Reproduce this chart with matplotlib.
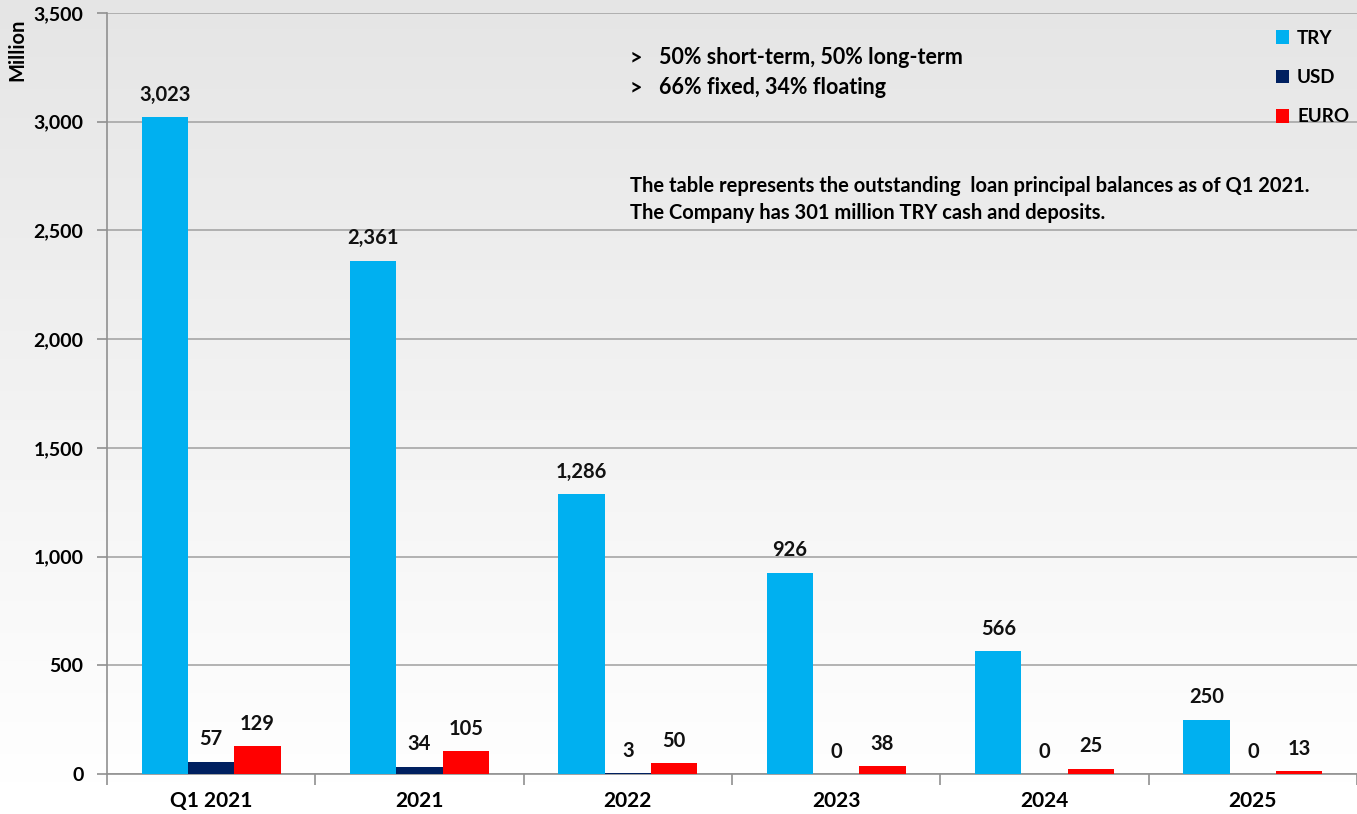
import matplotlib
matplotlib.use("Agg")
import matplotlib.pyplot as plt
import numpy as np
from matplotlib.patches import Patch

categories = ["Q1 2021", "2021", "2022", "2023", "2024", "2025"]
try_vals = [3023, 2361, 1286, 926, 566, 250]
usd_vals = [57, 34, 3, 0, 0, 0]
euro_vals = [129, 105, 50, 38, 25, 13]
series_names = ["TRY", "USD", "EURO"]
colors = ["#00B0F0", "#002060", "#FF0000"]
yticks = [0, 500, 1000, 1500, 2000, 2500, 3000, 3500]

FONT = ["Lato", "DejaVu Sans"]
plt.rcParams["font.family"] = FONT
plt.rcParams["font.weight"] = "bold"

fig = plt.figure(figsize=(13.57, 8.14), dpi=100)

# gradient background
bg = fig.add_axes([0, 0, 1, 1], zorder=-10)
grad = np.linspace(0.895, 1.0, 256).reshape(-1, 1)
bg.imshow(grad, aspect="auto", cmap="gray", vmin=0, vmax=1, extent=[0, 1, 0, 1], origin="upper")
bg.set_axis_off()

ax = fig.add_axes([107 / 1357, 1 - 774 / 814, 1 - 107 / 1357, (774 - 13) / 814])
ax.patch.set_alpha(0)

x = np.arange(len(categories))
w = 0.222
series = [try_vals, usd_vals, euro_vals]
for i, (vals, c, name) in enumerate(zip(series, colors, series_names)):
    pos = x + (i - 1) * w
    ax.bar(pos, vals, width=w, color=c, label=name, zorder=3)
    for px, v in zip(pos, vals):
        ax.annotate(f"{v:,}", (px, v), xytext=(0, 16), textcoords="offset points",
                    ha="center", va="center", fontsize=14.5, fontweight="bold", color="#111111")

ax.set_xlim(-0.5, 5.5)
ax.set_ylim(0, 3500)
ax.set_yticks(yticks)
ax.set_yticklabels([f"{t:,}" for t in yticks], fontsize=14, fontweight="bold")
ax.set_xticks(x)
ax.set_xticklabels(categories, fontsize=15, fontweight="bold")
ax.set_xticks(np.arange(-0.5, 6.0, 1.0), minor=True)
ax.tick_params(axis="x", which="major", length=0, pad=12)
ax.tick_params(axis="x", which="minor", length=8, color="#909090", width=1.2)
ax.tick_params(axis="y", length=7, color="#909090", width=1.2, pad=10)
ax.grid(axis="y", color="#a6a6a6", linewidth=1.2, zorder=0)
for s in ["top", "right"]:
    ax.spines[s].set_visible(False)
ax.spines["left"].set_color("#909090")
ax.spines["bottom"].set_color("#909090")
ax.spines["left"].set_linewidth(1.2)
ax.spines["bottom"].set_linewidth(1.2)

fig.text(17 / 1357, 1 - 50 / 814, "Million", rotation=90, ha="center", va="center",
         fontsize=14.5, fontweight="bold")

handles = [Patch(facecolor=c, label=n) for c, n in zip(colors, series_names)]
ax.legend(handles=handles, loc="upper left", bbox_to_anchor=(1268 / 1357, 1 - 22 / 814),
          bbox_transform=fig.transFigure, frameon=False,
          handlelength=0.7, handleheight=0.7, handletextpad=0.45, labelspacing=1.2,
          borderaxespad=0, prop={"weight": "bold", "size": 13.5})

for y, t in [(58, "50% short-term, 50% long-term"), (88, "66% fixed, 34% floating")]:
    fig.text(630 / 1357, 1 - y / 814, ">", ha="left", va="center", fontsize=15.5, fontweight="bold")
    fig.text(659 / 1357, 1 - y / 814, t, ha="left", va="center", fontsize=15.5, fontweight="bold")

fig.text(630 / 1357, 1 - 186 / 814, "The table represents the outstanding  loan principal balances as of Q1 2021.",
         ha="left", va="center", fontsize=14.5, fontweight="bold")
fig.text(630 / 1357, 1 - 213 / 814, "The Company has 301 million TRY cash and deposits.",
         ha="left", va="center", fontsize=14.5, fontweight="bold")

fig.savefig("out.png", dpi=100)
